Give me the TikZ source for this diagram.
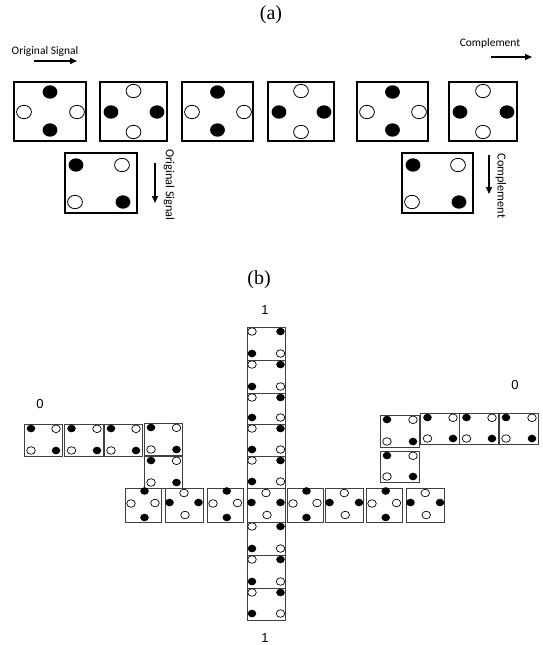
\documentclass[tikz,border=0pt]{standalone}
\usepackage{fontspec}
\setmainfont{Liberation Serif}
\newfontfamily\calib{Carlito}
\newfontfamily\arialf{Liberation Sans}
\usetikzlibrary{arrows.meta}

\tikzset{
  bigbox/.style={draw, line width=1.3pt},
  smbox/.style={draw=black!75, line width=0.9pt},
  bk/.style={fill=black},
  wt/.style={draw=black, fill=white, line width=0.8pt},
  wts/.style={draw=black, fill=white, line width=0.7pt},
  sig/.style={-{Triangle[length=7pt,width=6pt]}, line width=1.5pt},
  lbl/.style={font=\calib\fontsize{11.5}{13}\selectfont, inner sep=0pt},
  rlbl/.style={font=\calib\fontsize{12.3}{14}\selectfont, inner sep=0pt, rotate=-90},
  num/.style={font=\arialf\fontsize{13}{15}\selectfont, inner sep=0pt},
  ttl/.style={font=\fontsize{20}{24}\selectfont, inner sep=0pt},
}

\newcommand{\BigR}{7.4pt}
\newcommand{\BigRy}{6.7pt}
\newcommand{\SmR}{4.3pt}
\newcommand{\SmRy}{3.8pt}

% (a) top row: V = black top/bottom, white left/right
\newcommand{\topV}[2]{%
  \pgfmathsetmacro\mycx{(#1+#2)/2}
  \draw[bigbox] (#1,82) rectangle (#2,141);
  \fill[bk] (\mycx,92) ellipse[x radius=\BigR, y radius=\BigRy];
  \fill[bk] (\mycx,130) ellipse[x radius=\BigR, y radius=\BigRy];
  \draw[wt] (#1+10,112) ellipse[x radius=\BigR, y radius=\BigRy];
  \draw[wt] (#2-9,112) ellipse[x radius=\BigR, y radius=\BigRy];
}
\newcommand{\topH}[2]{%
  \pgfmathsetmacro\mycx{(#1+#2)/2}
  \draw[bigbox] (#1,82) rectangle (#2,141);
  \draw[wt] (\mycx,91) ellipse[x radius=\BigR, y radius=\BigRy];
  \draw[wt] (\mycx,132) ellipse[x radius=\BigR, y radius=\BigRy];
  \fill[bk] (#1+11,112) ellipse[x radius=\BigR, y radius=\BigRy];
  \fill[bk] (#2-10,112) ellipse[x radius=\BigR, y radius=\BigRy];
}
% (a) bottom boxes
\newcommand{\lowbox}[2]{%
  \draw[bigbox] (#1,153) rectangle (#2,213);
  \fill[bk] (#1+11,165) ellipse[x radius=\BigR, y radius=\BigRy];
  \draw[wt] (#2-15,165) ellipse[x radius=\BigR, y radius=\BigRy];
  \draw[wt] (#1+10,202) ellipse[x radius=\BigR, y radius=\BigRy];
  \fill[bk] (#2-14,202) ellipse[x radius=\BigR, y radius=\BigRy];
}
% (b) column box: white TL, black TR, black BL, white BR
\newcommand{\colbox}[2]{%
  \draw[smbox] (247,#1) rectangle (285,#2);
  \draw[wts] (252,#1+4.5) ellipse[x radius=\SmR, y radius=\SmRy];
  \fill[bk] (280.5,#1+4.5) ellipse[x radius=\SmR, y radius=\SmRy];
  \fill[bk] (252,#2-6.5) ellipse[x radius=\SmR, y radius=\SmRy];
  \draw[wts] (280.5,#2-6.5) ellipse[x radius=\SmR, y radius=\SmRy];
}
% (b) arm box: black TL, white TR, white BL, black BR
\newcommand{\armbox}[4]{%
  \draw[smbox] (#1,#2) rectangle (#3,#4);
  \fill[bk] (#1+7,#2+4.5) ellipse[x radius=\SmR, y radius=\SmRy];
  \draw[wts] (#3-6,#2+4.8) ellipse[x radius=\SmR, y radius=\SmRy];
  \draw[wts] (#1+7,#4-5.5) ellipse[x radius=\SmR, y radius=\SmRy];
  \fill[bk] (#3-6,#4-5.5) ellipse[x radius=\SmR, y radius=\SmRy];
}
% (b) middle row
\newcommand{\midV}[2]{%
  \pgfmathsetmacro\mycx{(#1+#2)/2+1.5}
  \draw[smbox] (#1,488) rectangle (#2,522);
  \fill[bk] (\mycx,491) ellipse[x radius=\SmR, y radius=\SmRy];
  \fill[bk] (\mycx,517.5) ellipse[x radius=\SmR, y radius=\SmRy];
  \draw[wts] (#1+6,503.5) ellipse[x radius=\SmR, y radius=\SmRy];
  \draw[wts] (#2-6,503) ellipse[x radius=\SmR, y radius=\SmRy];
}
\newcommand{\midH}[2]{%
  \pgfmathsetmacro\mycx{(#1+#2)/2}
  \draw[smbox] (#1,488) rectangle (#2,522);
  \draw[wts] (\mycx,493) ellipse[x radius=\SmR, y radius=\SmRy];
  \draw[wts] (\mycx+1,515) ellipse[x radius=\SmR, y radius=\SmRy];
  \fill[bk] (#1+4.5,502.5) ellipse[x radius=\SmR, y radius=\SmRy];
  \fill[bk] (#2-4.5,502.5) ellipse[x radius=\SmR, y radius=\SmRy];
}

\begin{document}
\begin{tikzpicture}[x=1pt,y=-1pt]
\useasboundingbox (0,0) rectangle (542,645);

% ---------- (a) ----------
\node[ttl] (ta) at (271,15) {(a)};
\node[lbl] (osig) at (45,51) {Original Signal};
\coordinate (oa1) at (34,61);
\coordinate (oa2) at (77,61);
\draw[sig] (oa1) -- (oa2);
\node[lbl] (comp) at (490,43) {Complement};
\coordinate (ca1) at (491,57);
\coordinate (ca2) at (532,57);
\draw[sig] (ca1) -- (ca2);

\topV{14}{86}
\topH{100}{167}
\topV{182}{253}
\topH{268}{334}
\topV{357}{428}
\topH{449}{517}

\lowbox{65}{137}
\lowbox{402}{473}

\coordinate (od1) at (155,163);
\coordinate (od2) at (155,203);
\draw[sig] (od1) -- (od2);
\node[rlbl] (osigv) at (169,185) {Original Signal};
\coordinate (cd1) at (489,155);
\coordinate (cd2) at (489,194);
\draw[sig] (cd1) -- (cd2);
\node[rlbl] (compv) at (501,186) {Complement};

% ---------- (b) ----------
\node[ttl] (tb) at (259,280) {(b)};
\node[num] (one1) at (265,310) {1};
\node[num] (one2) at (265,638) {1};
\node[num] (zero1) at (40,404) {0};
\node[num] (zero2) at (515,385) {0};

% column
\colbox{327}{360}
\colbox{360}{393}
\colbox{393}{424}
\colbox{424}{456}
\colbox{456}{488}
\colbox{522}{555}
\colbox{555}{588}
\colbox{588}{620}

% left arm
\armbox{24}{424}{62}{456}
\armbox{64.5}{424}{103}{456}
\armbox{104}{424}{142}{456}
\armbox{144}{423}{182.5}{455}
\armbox{144}{456}{182.5}{488}

% right arm
\armbox{380}{415}{419}{447}
\armbox{420.5}{413}{459}{444}
\armbox{459.5}{413}{498}{444}
\armbox{499}{413}{538}{444}
\armbox{380}{451}{419}{482}

% middle row
\midV{125}{161}
\midH{165}{203}
\midV{207}{243.5}
\midH{247}{285}
\midV{287}{323}
\midH{325}{363.5}
\midV{366}{402.5}
\midH{406}{444.5}

\end{tikzpicture}
\end{document}
